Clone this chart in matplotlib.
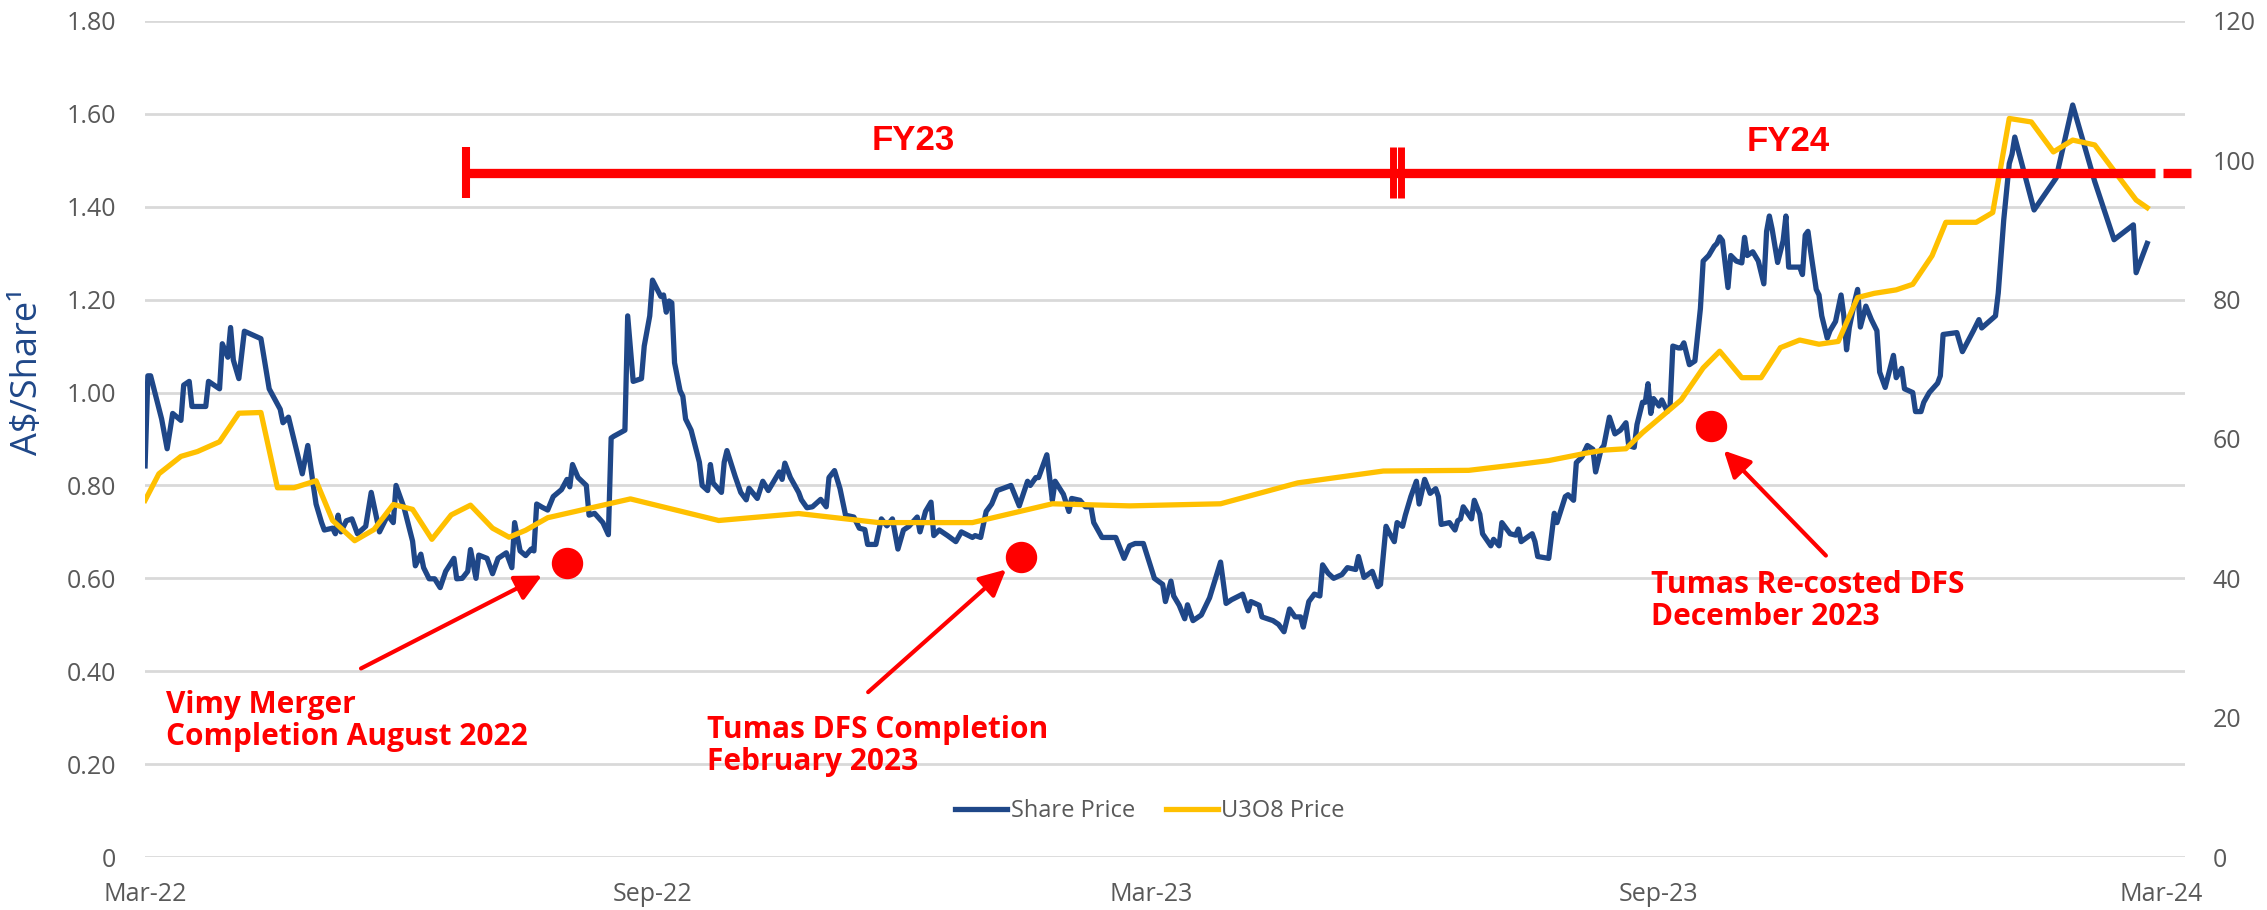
# Share price vs U3O8 price, Mar-22 to Mar-24
import numpy as np
import pandas as pd
import matplotlib.pyplot as plt
import matplotlib.dates as mdates

# ---- data ----
start = pd.Timestamp("2022-03-01")

# days since 1 Mar 2022 / share price (A$)
share_days = [0, 1, 2, 6, 8, 10, 13, 14, 16, 17, 22, 23, 27, 28, 30, 31, 32, 34, 36, 42, 45, 49, 50, 52, 55, 57, 59, 61, 62, 64,
              65, 68, 69, 70, 71, 73, 75, 77, 80, 82, 85, 88, 90, 91, 94, 97, 98, 100, 101, 103, 105, 107, 109, 112, 113, 115, 117, 118, 120, 121,
              124, 126, 128, 131, 133, 134, 136, 138, 140, 141, 142, 144, 146, 148, 151, 153, 154, 155, 157, 160, 161, 163, 166, 168, 169, 170, 174, 175, 177, 180,
              181, 183, 184, 187, 188, 189, 190, 191, 192, 194, 195, 196, 198, 201, 202, 204, 205, 206, 209, 210, 211, 214, 216, 218, 219, 222, 224, 226, 230, 231,
              232, 234, 237, 238, 240, 242, 245, 247, 248, 250, 252, 254, 257, 259, 261, 262, 265, 267, 269, 271, 273, 275, 277, 280, 281, 283, 285, 286, 288, 291,
              294, 296, 300, 301, 303, 305, 307, 309, 314, 317, 320, 321, 323, 324, 327, 329, 330, 333, 335, 336, 339, 341, 343, 344, 347, 352, 355, 357, 359, 362,
              366, 369, 370, 372, 373, 375, 377, 378, 380, 383, 386, 390, 392, 394, 398, 400, 401, 404, 405, 409, 411, 413, 415, 417, 419, 420, 422, 424, 426, 427,
              429, 431, 434, 436, 439, 440, 442, 445, 447, 448, 450, 451, 453, 454, 456, 457, 459, 461, 462, 464, 466, 468, 469, 470, 473, 475, 476, 477, 478, 481,
              482, 484, 485, 488, 489, 491, 492, 495, 497, 498, 499, 503, 504, 505, 509, 511, 512, 515, 516, 518, 519, 521, 523, 525, 526, 528, 529, 531, 533, 535,
              537, 538, 540, 541, 543, 544, 545, 546, 547, 549, 550, 552, 553, 554, 556, 557, 558, 560, 561, 562, 564, 565, 567, 569, 570, 571, 572, 574, 575, 577,
              579, 580, 581, 583, 585, 587, 588, 589, 590, 592, 594, 595, 596, 600, 601, 602, 603, 604, 606, 607, 608, 610, 611, 613, 615, 616, 617, 618, 620, 621,
              622, 624, 626, 628, 629, 631, 634, 635, 637, 638, 641, 642, 644, 645, 647, 650, 651, 652, 657, 659, 663, 665, 666, 671, 672, 674, 676, 677, 678, 685,
              693, 699, 707, 714, 721, 722, 726]
share_price = [0.842, 1.036, 1.036, 0.943, 0.879, 0.955, 0.94, 1.016, 1.024, 0.97, 0.97, 1.024, 1.008, 1.105, 1.076, 1.14, 1.07, 1.03, 1.132, 1.116, 1.008, 0.964, 0.935, 0.947, 0.874, 0.825, 0.886, 0.80, 0.76, 0.72,
               0.704, 0.708, 0.696, 0.736, 0.70, 0.724, 0.728, 0.696, 0.712, 0.785, 0.70, 0.736, 0.72, 0.80, 0.75, 0.68, 0.627, 0.652, 0.623, 0.599, 0.599, 0.58, 0.615, 0.643, 0.599, 0.60, 0.615, 0.662, 0.60, 0.65,
               0.643, 0.61, 0.643, 0.655, 0.623, 0.72, 0.659, 0.649, 0.663, 0.659, 0.76, 0.753, 0.747, 0.776, 0.791, 0.813, 0.797, 0.845, 0.817, 0.80, 0.736, 0.74, 0.72, 0.694, 0.902, 0.906, 0.919, 1.165, 1.024, 1.03,
               1.10, 1.165, 1.242, 1.207, 1.21, 1.173, 1.197, 1.193, 1.064, 1.004, 0.992, 0.943, 0.919, 0.85, 0.80, 0.789, 0.845, 0.805, 0.785, 0.85, 0.875, 0.819, 0.785, 0.769, 0.794, 0.772, 0.809, 0.789, 0.829, 0.813,
               0.848, 0.817, 0.785, 0.769, 0.752, 0.754, 0.77, 0.754, 0.817, 0.832, 0.793, 0.736, 0.732, 0.708, 0.705, 0.673, 0.673, 0.728, 0.713, 0.728, 0.663, 0.704, 0.712, 0.732, 0.70, 0.744, 0.764, 0.692, 0.704, 0.692,
               0.679, 0.70, 0.688, 0.692, 0.688, 0.744, 0.76, 0.789, 0.80, 0.756, 0.809, 0.80, 0.817, 0.817, 0.866, 0.768, 0.809, 0.781, 0.744, 0.772, 0.768, 0.754, 0.754, 0.72, 0.688, 0.688, 0.643, 0.67, 0.675, 0.675,
               0.60, 0.587, 0.55, 0.594, 0.562, 0.542, 0.513, 0.543, 0.509, 0.521, 0.558, 0.635, 0.546, 0.554, 0.566, 0.530, 0.55, 0.542, 0.517, 0.509, 0.501, 0.485, 0.534, 0.517, 0.517, 0.495, 0.55, 0.566, 0.562, 0.629,
               0.611, 0.60, 0.608, 0.623, 0.619, 0.647, 0.602, 0.615, 0.582, 0.587, 0.712, 0.70, 0.679, 0.72, 0.712, 0.736, 0.776, 0.809, 0.76, 0.813, 0.783, 0.793, 0.776, 0.716, 0.72, 0.704, 0.724, 0.728, 0.754, 0.728,
               0.768, 0.738, 0.696, 0.67, 0.684, 0.67, 0.72, 0.696, 0.693, 0.706, 0.679, 0.696, 0.679, 0.647, 0.643, 0.74, 0.72, 0.776, 0.78, 0.768, 0.849, 0.861, 0.886, 0.878, 0.829, 0.878, 0.886, 0.947, 0.911, 0.919,
               0.935, 0.886, 0.882, 0.931, 0.979, 0.979, 1.019, 0.955, 0.987, 0.971, 0.984, 0.959, 0.971, 1.10, 1.096, 1.096, 1.107, 1.06, 1.064, 1.068, 1.181, 1.283, 1.295, 1.315, 1.321, 1.335, 1.327, 1.226, 1.295, 1.283,
               1.279, 1.334, 1.295, 1.303, 1.283, 1.234, 1.347, 1.38, 1.352, 1.28, 1.327, 1.38, 1.27, 1.27, 1.254, 1.339, 1.347, 1.303, 1.222, 1.21, 1.165, 1.117, 1.133, 1.153, 1.21, 1.165, 1.092, 1.14, 1.198, 1.222,
               1.141, 1.186, 1.157, 1.133, 1.044, 1.011, 1.08, 1.032, 1.052, 1.008, 1.0, 0.959, 0.959, 0.979, 1.0, 1.02, 1.036, 1.125, 1.129, 1.088, 1.133, 1.157, 1.139, 1.165, 1.214, 1.372, 1.493, 1.513, 1.55, 1.393,
               1.462, 1.619, 1.454, 1.329, 1.361, 1.258, 1.321]

# days since 1 Mar 2022 / U3O8 spot (US$/lb)
u3o8_days = [0, 5, 13, 19, 27, 34, 42, 48, 54, 62, 68, 76, 83, 90, 97, 104, 111, 118, 126, 132, 138, 146, 176, 208, 237, 266, 300, 329, 357, 390,
             418, 449, 480, 495, 509, 523, 529, 537, 543, 557, 565, 571, 579, 586, 593, 600, 607, 614, 621, 627, 635, 641, 648, 653, 664, 670, 676, 684, 692, 699,
             707, 714, 722, 726]
u3o8_price = [51.2, 55.0, 57.5, 58.2, 59.6, 63.7, 63.8, 53.0, 53.0, 54.0, 48.3, 45.4, 47.0, 50.6, 49.9, 45.6, 49.1, 50.5, 47.2, 45.9, 46.9, 48.7, 51.4, 48.3, 49.3, 48.0, 48.0, 50.7, 50.4, 50.7,
              53.7, 55.4, 55.5, 56.2, 56.9, 58.0, 58.4, 58.6, 60.9, 65.6, 70.2, 72.6, 68.8, 68.8, 73.1, 74.2, 73.6, 74.0, 80.3, 80.9, 81.4, 82.2, 86.3, 91.1, 91.1, 92.5, 106.0, 105.5, 101.2, 102.9,
              102.2, 98.5, 94.3, 93.2]

x_ticks = ["2022-03-01", "2022-09-01", "2023-03-01", "2023-09-01", "2024-03-01"]

share_dates = start + pd.to_timedelta(share_days, unit="D")
u3o8_dates = start + pd.to_timedelta(u3o8_days, unit="D")


def day(n):
    # date number for annotations placed by hand
    return mdates.date2num(start + pd.Timedelta(days=n))


NAVY = "#1F4788"
GOLD = "#FFC000"
RED = "#FF0000"
GREY = "#595959"
TXT = ["Open Sans", "DejaVu Sans"]

fig = plt.figure(figsize=(22.67, 9.10), dpi=100)
ax = fig.add_axes([0.064, 0.0582, 0.8998, 0.9188])
ax2 = ax.twinx()

ax.plot(share_dates, share_price, color=NAVY, lw=3.8, solid_joinstyle="round", zorder=3)
ax2.plot(u3o8_dates, u3o8_price, color=GOLD, lw=3.8, solid_joinstyle="round", zorder=2)

# axes
ax.set_ylim(0, 1.8)
ax2.set_ylim(0, 120)
ax.set_xlim(day(0), day(739.7))
ax.set_yticks(np.arange(0, 1.81, 0.2))
ax.set_yticklabels(["0"] + [f"{v:.2f}" for v in np.arange(0.2, 1.81, 0.2)])
ax2.set_yticks(np.arange(0, 121, 20))
ax.set_xticks(mdates.date2num(pd.to_datetime(x_ticks)))
ax.xaxis.set_major_formatter(mdates.DateFormatter("%b-%y"))

ax.grid(axis="y", color="#D9D9D9", lw=2)
ax.set_axisbelow(True)
for a in (ax, ax2):
    for s in a.spines.values():
        s.set_visible(False)
    a.tick_params(length=0, labelsize=18, labelcolor=GREY)
    for lab in a.get_xticklabels() + a.get_yticklabels():
        lab.set_family(TXT)
ax.tick_params(axis="y", pad=21)
ax2.tick_params(axis="y", pad=20)
ax.tick_params(axis="x", pad=18)

fig.text(28 / 2267, 1 - 372 / 910, "A$/Share\u00b9", rotation=90, color=NAVY,
         fontsize=26, family=TXT, ha="center", va="center")

# legend
h1, = ax.plot([], [], color=NAVY, lw=3.8)
h2, = ax.plot([], [], color=GOLD, lw=3.8)
ax.legend([h1, h2], ["Share Price", "U3O8 Price"], loc="center", bbox_to_anchor=(0.4926, 0.055),
          ncol=2, frameon=False, prop={"family": TXT, "size": 17}, labelcolor=GREY,
          handlelength=2.2, handletextpad=0.15, columnspacing=1.3)

# ---- annotations (drawn on top, in left-axis units) ----
T = ax.transData
kw = dict(transform=T, color=RED, solid_capstyle="butt", clip_on=False, zorder=10)
ax2.plot([day(116.4), day(728.8)], [1.473, 1.473], lw=6.7, **kw)
ax2.plot([day(731.7), day(741.8)], [1.473, 1.473], lw=6.7, **kw)
ax2.plot([day(116.4), day(116.4)], [1.419, 1.529], lw=5.8, **kw)
ax2.plot([day(452.7), day(452.7)], [1.419, 1.529], lw=5.0, **kw)
ax2.plot([day(455.6), day(455.6)], [1.419, 1.529], lw=5.0, **kw)

fy = dict(transform=T, color=RED, fontsize=25, fontweight="bold", family="Liberation Sans",
          ha="center", va="center", zorder=10)
ax2.text(day(278.5), 1.542, "FY23", **fy)
ax2.text(day(595.7), 1.540, "FY24", **fy)

dots = [(153.0, 0.632), (317.6, 0.647), (567.8, 0.929)]
for d, v in dots:
    ax2.plot([day(d)], [v], "o", ms=21.6, color=RED, mec=RED, transform=T, zorder=10)

arrows = [((78.3, 0.406), (143.9, 0.606)),
          ((262.2, 0.355), (312.2, 0.619)),
          ((609.5, 0.649), (572.5, 0.875))]
for (d0, v0), (d1, v1) in arrows:
    ax2.annotate("", xy=(day(d1), v1), xytext=(day(d0), v0), xycoords=T, textcoords=T,
                 arrowprops=dict(arrowstyle="-|>,head_length=0.8,head_width=0.4", color=RED,
                                 lw=3, mutation_scale=20, shrinkA=0, shrinkB=0), zorder=10)

notes = [(7.6, 0.2925, "Vimy Merger\nCompletion August 2022"),
         (203.8, 0.239, "Tumas DFS Completion\nFebruary 2023"),
         (546.0, 0.5505, "Tumas Re-costed DFS\nDecember 2023")]
for d, v, s in notes:
    ax2.text(day(d), v, s, transform=T, color=RED, fontsize=21.5, fontweight="bold", family=TXT,
             ha="left", va="center", linespacing=1.1, zorder=10)

fig.savefig("out.png", dpi=100)
